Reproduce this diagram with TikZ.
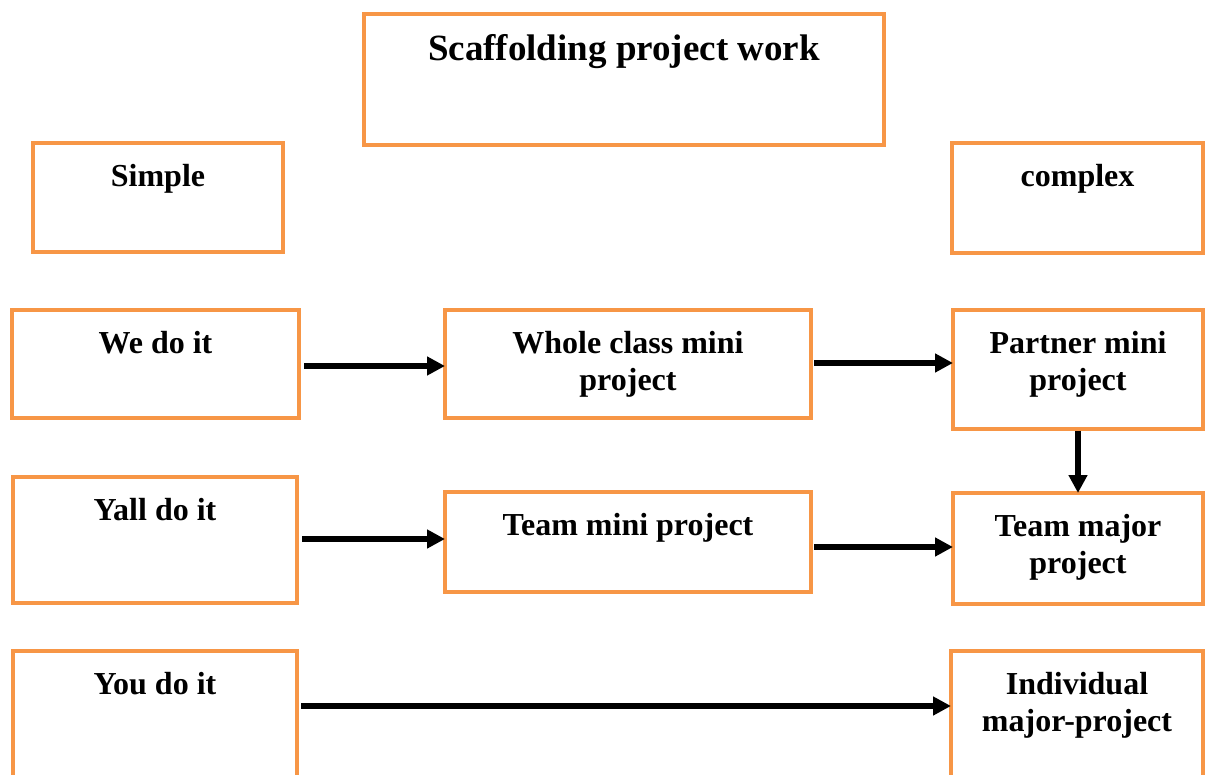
\documentclass[tikz,border=0pt]{standalone}
\usepackage{fontspec}
\setmainfont{Liberation Serif}
\usetikzlibrary{arrows.meta,calc}
\definecolor{boxorange}{HTML}{F79646}
\begin{document}
\begin{tikzpicture}[x=1pt,y=-1pt,
  box/.style={draw=boxorange, line width=4.5pt, rectangle, inner sep=0pt, outer sep=0pt, anchor=north west},
  lbl/.style={font=\fontsize{32}{37}\selectfont\bfseries, align=center, inner sep=0pt, anchor=north},
  ttl/.style={font=\fontsize{37}{42}\selectfont\bfseries, align=center, inner sep=0pt, anchor=north},
  arr/.style={line width=6pt, -{Triangle[length=18pt,width=18pt]}}]
\useasboundingbox (0,0) rectangle (1205,775);
\clip (0,0) rectangle (1205,775);
% boxes
\node[box, minimum width=520pt, minimum height=131pt] (title) at (364,14) {};
\node[box, minimum width=250pt, minimum height=109pt] (simple) at (33,143) {};
\node[box, minimum width=251pt, minimum height=110pt] (complex) at (952,143) {};
\node[box, minimum width=287pt, minimum height=108pt] (we) at (12,310) {};
\node[box, minimum width=366pt, minimum height=108pt] (whole) at (445,310) {};
\node[box, minimum width=250pt, minimum height=119pt] (partner) at (953,310) {};
\node[box, minimum width=284pt, minimum height=126pt] (yall) at (13,477) {};
\node[box, minimum width=366pt, minimum height=100pt] (teammini) at (445,492) {};
\node[box, minimum width=250pt, minimum height=111pt] (teammajor) at (953,493) {};
\node[box, minimum width=284pt, minimum height=160pt] (you) at (13,651) {};
\node[box, minimum width=252pt, minimum height=160pt] (indiv) at (951,651) {};
% texts
\node[ttl] (title-t) at ([yshift=-20pt]title.north) {Scaffolding project work};
\node[lbl] (simple-t) at ([yshift=-21pt]simple.north) {Simple};
\node[lbl] (complex-t) at ([yshift=-21pt]complex.north) {complex};
\node[lbl] (we-t) at ([yshift=-21pt]we.north) {We do it};
\node[lbl] (whole-t) at ([yshift=-21pt]whole.north) {Whole class mini\\project};
\node[lbl] (partner-t) at ([yshift=-21pt]partner.north) {Partner mini\\project};
\node[lbl] (yall-t) at ([yshift=-21pt]yall.north) {Yall do it};
\node[lbl] (teammini-t) at ([yshift=-21pt]teammini.north) {Team mini project};
\node[lbl] (teammajor-t) at ([yshift=-21pt]teammajor.north) {Team major\\project};
\node[lbl] (you-t) at ([yshift=-21pt]you.north) {You do it};
\node[lbl] (indiv-t) at ([yshift=-21pt]indiv.north) {Individual\\major-project};
% arrows
\draw[arr] ([xshift=5pt,yshift=-2pt]we.east) -- ([yshift=-2pt]we.east -| whole.west);
\draw[arr] ([xshift=3pt,yshift=1pt]whole.east) -- ([yshift=1pt]whole.east -| partner.west);
\draw[arr] ([yshift=-2pt]partner.south) -- (teammajor.north);
\draw[arr] ([xshift=5pt,yshift=1pt]yall.west -| yall.east) -- ([yshift=1pt]yall.west -| teammini.west);
\draw[arr] ([xshift=3pt,yshift=-5pt]teammini.east) -- ([yshift=-5pt]teammini.east -| teammajor.west);
\coordinate (youarr) at ($(you.north east)+(4,55)$);
\draw[arr] (youarr) -- (youarr -| indiv.west);
\end{tikzpicture}
\end{document}
